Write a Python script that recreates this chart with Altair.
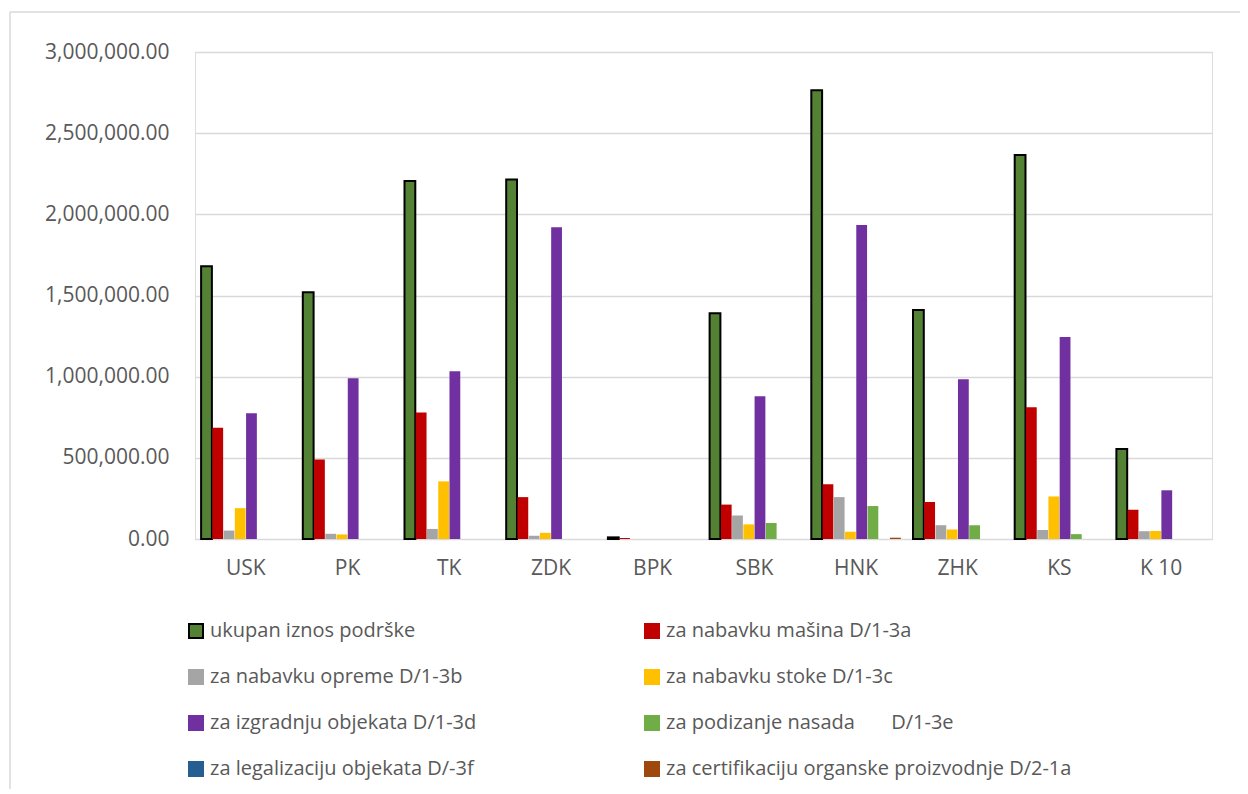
import altair as alt
import pandas as pd

categories = ["USK", "PK", "TK", "ZDK", "BPK", "SBK", "HNK", "ZHK", "KS", "K 10"]

series_names = [
    "ukupan iznos podrške",
    "za nabavku mašina D/1-3a",
    "za nabavku opreme D/1-3b",
    "za nabavku stoke D/1-3c",
    "za izgradnju objekata D/1-3d",
    "za podizanje nasada\u00a0\u00a0\u00a0\u00a0\u00a0\u00a0 D/1-3e",
    "za legalizaciju objekata D/-3f",
    "za certifikaciju organske proizvodnje D/2-1a",
]

ukupan = [1680000, 1520000, 2205000, 2215000, 10000, 1390000, 2765000, 1410000, 2365000, 555000]
masine = [685000, 490000, 780000, 258000, 6000, 212000, 338000, 228000, 812000, 180000]
oprema = [52000, 32000, 62000, 20000, 0, 145000, 258000, 85000, 55000, 48000]
stoka = [190000, 28000, 355000, 38000, 0, 90000, 45000, 58000, 262000, 50000]
objekti = [775000, 990000, 1033000, 1920000, 0, 879000, 1935000, 984000, 1245000, 300000]
nasadi = [0, 0, 0, 0, 0, 98000, 203000, 85000, 30000, 0]
legalizacija = [0, 0, 0, 0, 0, 0, 0, 0, 0, 0]
certifikacija = [0, 0, 0, 0, 0, 0, 8000, 0, 0, 0]

fill_colors = ["#548235", "#C00000", "#A5A5A5", "#FFC000", "#7030A0", "#70AD47", "#255E91", "#9E480E"]
stroke_colors = ["#000000", "#C00000", "#A5A5A5", "#FFC000", "#7030A0", "#70AD47", "#255E91", "#9E480E"]

all_values = [ukupan, masine, oprema, stoka, objekti, nasadi, legalizacija, certifikacija]
rows = []
for name, vals in zip(series_names, all_values):
    for c, v in zip(categories, vals):
        rows.append({"region": c, "series": name, "value": v})
df = pd.DataFrame(rows)

# legend is laid out column by column, so order the domain to read row by row
legend_order = [0, 2, 4, 6, 1, 3, 5, 7]
legend_domain = [series_names[i] for i in legend_order]
legend_fill = [fill_colors[i] for i in legend_order]
legend_stroke = [stroke_colors[i] for i in legend_order]

FONT = "Open Sans, sans-serif"
TXT = "#595959"
W, H = 1017, 487

bars = alt.Chart(df).mark_bar(strokeWidth=2).encode(
    x=alt.X("region:N", sort=categories, title=None,
            scale=alt.Scale(paddingInner=0.12, paddingOuter=0.06),
            axis=alt.Axis(labelAngle=0, ticks=False, domain=False, labelPadding=18,
                          labelFontSize=21, labelColor=TXT, labelFont=FONT)),
    xOffset=alt.XOffset("series:N", sort=series_names, scale=alt.Scale(paddingInner=0.04)),
    y=alt.Y("value:Q", title=None,
            scale=alt.Scale(domain=[0, 3000000], nice=False),
            axis=alt.Axis(values=[0, 500000, 1000000, 1500000, 2000000, 2500000, 3000000],
                          format=",.2f", ticks=False, domain=False, labelPadding=26,
                          labelFontSize=21, labelColor=TXT, labelFont=FONT,
                          gridColor="#D9D9D9", gridWidth=1.5)),
    color=alt.Color("series:N", title=None,
                    scale=alt.Scale(domain=legend_domain, range=legend_fill),
                    legend=alt.Legend(orient="none", legendX=-9, legendY=569, columns=2,
                                      columnPadding=164, rowPadding=24, symbolType="square",
                                      symbolSize=196, symbolStrokeWidth=2, labelOffset=4,
                                      labelFontSize=20, labelColor=TXT, labelFont=FONT,
                                      labelLimit=600, padding=0)),
    stroke=alt.Stroke("series:N", title=None,
                      scale=alt.Scale(domain=legend_domain, range=legend_stroke)),
    strokeWidth=alt.condition(alt.datum.series == series_names[0], alt.value(2), alt.value(0)),
)

frame_df = pd.DataFrame({"a": [0]})
left_line = alt.Chart(frame_df).mark_rule(color="#D9D9D9", strokeWidth=1.5).encode(
    x=alt.value(-185), y=alt.value(-40), y2=alt.value(H + 250)
)
top_line = alt.Chart(frame_df).mark_rule(color="#D9D9D9", strokeWidth=1.5).encode(
    x=alt.value(-185), x2=alt.value(W + 28), y=alt.value(-40)
)

chart = alt.layer(left_line, top_line, bars).properties(
    width=W, height=H,
    autosize=alt.AutoSizeParams(type="none"),
    padding={"left": 187, "top": 44, "right": 28, "bottom": 250},
).configure_view(stroke=None).configure(background="white")

chart.save("out.html", embed_options={"renderer": "svg", "actions": False})
